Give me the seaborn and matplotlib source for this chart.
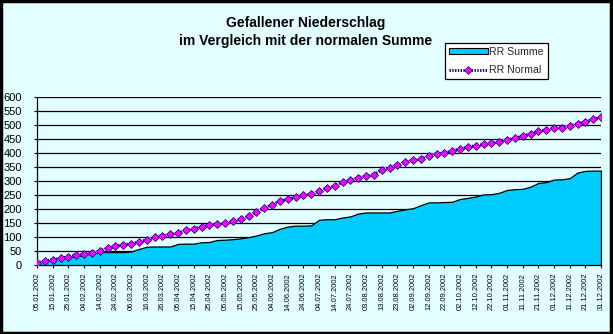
import matplotlib
matplotlib.use("Agg")
import matplotlib.pyplot as plt
import seaborn as sns
import pandas as pd
from matplotlib.patches import Patch, Rectangle
from matplotlib.lines import Line2D

# ---- data ----
dates = pd.date_range("2002-01-05", "2002-12-31", freq="5D")

rr_summe = [10, 18, 22, 25, 28, 32, 36, 42, 47, 47, 47, 47, 49, 58, 66, 67, 67, 67,
            76, 77, 77, 82, 83, 90, 91, 93, 96, 100, 106, 114, 118, 130, 138, 141,
            141, 142, 162, 164, 164, 170, 174, 184, 188, 188, 188, 188, 194, 199,
            203, 214, 224, 224, 225, 226, 236, 240, 245, 252, 253, 258, 268, 271,
            272, 280, 293, 296, 305, 306, 310, 330, 336, 337, 337]

rr_normal = [8, 16, 20, 25, 31, 37, 40, 44, 52, 61, 68, 74, 77, 83, 91, 99, 105, 110,
             115, 124, 130, 137, 143, 146, 149, 157, 164, 175, 188, 204, 216, 228, 236,
             242, 250, 254, 263, 275, 282, 295, 302, 312, 318, 322, 340, 348, 356, 368,
             374, 379, 389, 396, 401, 407, 415, 421, 426, 430, 434, 440, 447, 452, 461,
             468, 477, 483, 488, 490, 496, 504, 511, 519, 528]

tick_dates = dates[::2]
tick_labels = [d.strftime("%d.%m.%Y") for d in tick_dates]
y_ticks = list(range(0, 601, 50))

title = "Gefallener Niederschlag\nim Vergleich mit der normalen Summe"
series_names = ["RR Summe", "RR Normal"]

df = pd.DataFrame({"date": dates, "rr_summe": rr_summe, "rr_normal": rr_normal})

# ---- style ----
sns.set_theme(style="white")
plt.rcParams["font.family"] = ["Liberation Sans", "DejaVu Sans"]

BG = "#E2FEFF"
CYAN = "#00CCFF"
NAVY = "#000080"
MAGENTA = "#FF00FF"

W, H = 613, 334
fig = plt.figure(figsize=(W / 100, H / 100), dpi=100, facecolor=BG)

left, right, top, bottom = 37, 601, 96.7, 265.3
ax = fig.add_axes([left / W, 1 - bottom / H, (right - left) / W, (bottom - top) / H])
ax.set_facecolor("none")

# area
ax.fill_between(df["date"], df["rr_summe"], 0, facecolor=CYAN, edgecolor="black",
                linewidth=0.9, zorder=2)

# normal line: white underlay + navy dotted + magenta diamonds
sns.lineplot(data=df, x="date", y="rr_normal", ax=ax, color="white", linewidth=2.0,
             zorder=3)
sns.lineplot(data=df, x="date", y="rr_normal", ax=ax, color=NAVY, linewidth=2.0,
             linestyle=(0, (0.5, 0.5)), marker="D", markersize=4.3,
             markerfacecolor=MAGENTA, markeredgecolor=NAVY, markeredgewidth=0.5,
             zorder=4)

ax.set_xlim(dates[0], dates[-1])
ax.set_ylim(0, 600)
ax.set_xlabel("")
ax.set_ylabel("")

ax.set_yticks(y_ticks)
ax.set_yticklabels([str(v) for v in y_ticks])
ax.set_xticks(tick_dates)
ax.set_xticklabels(tick_labels, rotation=90)

ax.yaxis.grid(True, color="black", linewidth=0.9)
ax.xaxis.grid(False)
ax.set_axisbelow(True)

for s in ["top", "right"]:
    ax.spines[s].set_visible(False)
for s in ["left", "bottom"]:
    ax.spines[s].set_color("black")
    ax.spines[s].set_linewidth(0.9)

ax.tick_params(axis="x", which="major", bottom=True, length=2.5, width=0.8,
               color="black", pad=3, labelsize=5.4, labelcolor="black")
ax.tick_params(axis="y", which="major", left=True, length=2, width=0.8,
               color="black", pad=9, labelsize=8, labelcolor="black")

# title
fig.text(306 / W, 1 - 32 / H, title, ha="center", va="center", fontsize=10,
         fontweight="bold", linespacing=1.3, color="black")

# legend
handles = [
    Patch(facecolor=CYAN, edgecolor="black", linewidth=0.8),
    Line2D([0], [0], color=NAVY, linewidth=2.0, linestyle=(0, (0.5, 0.5)), marker="D",
           markersize=4.3, markerfacecolor=MAGENTA, markeredgecolor=NAVY,
           markeredgewidth=0.5),
]
leg = fig.legend(handles, series_names, loc="upper left",
                 bbox_to_anchor=(445 / W, 1 - 43 / H), frameon=True, fontsize=7.6,
                 handlelength=3.7, handleheight=0.45, handletextpad=0.15,
                 labelspacing=0.8, borderpad=0.35, borderaxespad=0, fancybox=False,
                 edgecolor="black", framealpha=1)
leg.get_frame().set_facecolor("white")
leg.get_frame().set_linewidth(0.9)

# outer border
fig.patches.append(Rectangle((0.002, 0.003), 0.995, 0.994, transform=fig.transFigure,
                             fill=False, edgecolor="black", linewidth=2.5))

fig.savefig("out.png", dpi=100, facecolor=BG)
